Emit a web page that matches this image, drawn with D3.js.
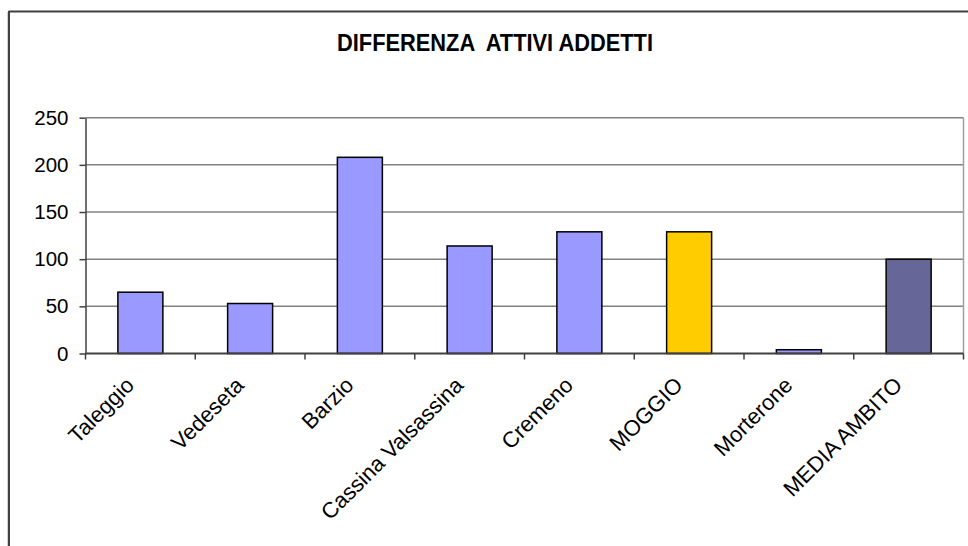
<!DOCTYPE html>
<html>
<head>
<meta charset="utf-8">
<script src="https://cdn.jsdelivr.net/npm/d3@7"></script>
<style>
  html, body { margin: 0; padding: 0; background: #fff; }
  svg { display: block; }
  text { font-family: "Liberation Sans", Arial, sans-serif; fill: #000; }
</style>
</head>
<body>
<svg id="chart" width="968" height="546"></svg>
<script>
const title = "DIFFERENZA  ATTIVI ADDETTI";
const categories = ["Taleggio", "Vedeseta", "Barzio", "Cassina Valsassina", "Cremeno", "MOGGIO", "Morterone", "MEDIA AMBITO"];
const values = [65, 53, 208, 114, 129, 129, 4, 100];
const yTicks = [0, 50, 100, 150, 200, 250];

const fillFor = c => c === "MOGGIO" ? "#FFCC00" : (c === "MEDIA AMBITO" ? "#666699" : "#9999FF");

const svg = d3.select("#chart");

// outer chart border
svg.append("line").attr("x1", 7.5).attr("x2", 7.5).attr("y1", 12).attr("y2", 546)
  .attr("stroke", "#d0d0d0").attr("stroke-width", 1);
svg.append("line").attr("x1", 9).attr("x2", 9).attr("y1", 11).attr("y2", 546)
  .attr("stroke", "#000").attr("stroke-width", 1.5);
svg.append("line").attr("x1", 8.5).attr("x2", 968).attr("y1", 11.5).attr("y2", 11.5)
  .attr("stroke", "#404040").attr("stroke-width", 2);

const x = d3.scaleBand().domain(categories).range([85.5, 963.5]).paddingInner(0.59).paddingOuter(0.295);
const y = d3.scaleLinear().domain([0, 250]).range([353.5, 117.7]);

// gridlines
svg.append("g").selectAll("line").data(yTicks.filter(d => d > 0)).join("line")
  .attr("x1", 85.5).attr("x2", 963.5)
  .attr("y1", d => y(d)).attr("y2", d => y(d))
  .attr("stroke", "#808080").attr("stroke-width", 1.5);

// plot area right border
svg.append("line").attr("x1", 963.5).attr("x2", 963.5).attr("y1", y(250)).attr("y2", y(0))
  .attr("stroke", "#a0a0a0").attr("stroke-width", 1.5);

// bars
svg.append("g").selectAll("rect").data(categories).join("rect")
  .attr("x", d => x(d))
  .attr("width", x.bandwidth())
  .attr("y", (d, i) => y(values[i]))
  .attr("height", (d, i) => y(0) - y(values[i]))
  .attr("fill", d => fillFor(d))
  .attr("stroke", "#000").attr("stroke-width", 1.5);

// y axis
const yAxis = d3.axisLeft(y).tickValues(yTicks).tickSize(6).tickPadding(11).tickSizeOuter(0);
const gy = svg.append("g").attr("transform", "translate(85.5,0)").call(yAxis);
gy.select(".domain").attr("stroke", "#404040").attr("stroke-width", 1.5);
gy.selectAll(".tick line").attr("stroke", "#404040").attr("stroke-width", 1.5);
gy.selectAll(".tick text").attr("font-size", 20.5).attr("font-family", "Liberation Sans, Arial, sans-serif").attr("fill", "#000");

// x axis
const step = x.step();
const bounds = d3.range(categories.length + 1).map(i => 85.5 + i * step);
const gx = svg.append("g");
gx.append("line").attr("x1", 85.5).attr("x2", 963.5).attr("y1", y(0)).attr("y2", y(0))
  .attr("stroke", "#404040").attr("stroke-width", 2);
gx.selectAll("line.tk").data(bounds).join("line").attr("class", "tk")
  .attr("x1", d => d).attr("x2", d => d).attr("y1", y(0)).attr("y2", y(0) + 6)
  .attr("stroke", "#404040").attr("stroke-width", 1.5);

gx.selectAll("text").data(categories).join("text")
  .attr("transform", d => `translate(${x(d) + x.bandwidth() / 2 - 5},${y(0) + 33}) rotate(-45)`)
  .attr("text-anchor", "end")
  .attr("font-size", 22)
  .text(d => d);

// title
svg.append("text").attr("x", 495).attr("y", 51).attr("text-anchor", "middle")
  .style("white-space", "pre")
  .attr("font-size", 23).attr("font-weight", "bold")
  .attr("textLength", 316).attr("lengthAdjust", "spacingAndGlyphs")
  .text(title);
</script>
</body>
</html>
